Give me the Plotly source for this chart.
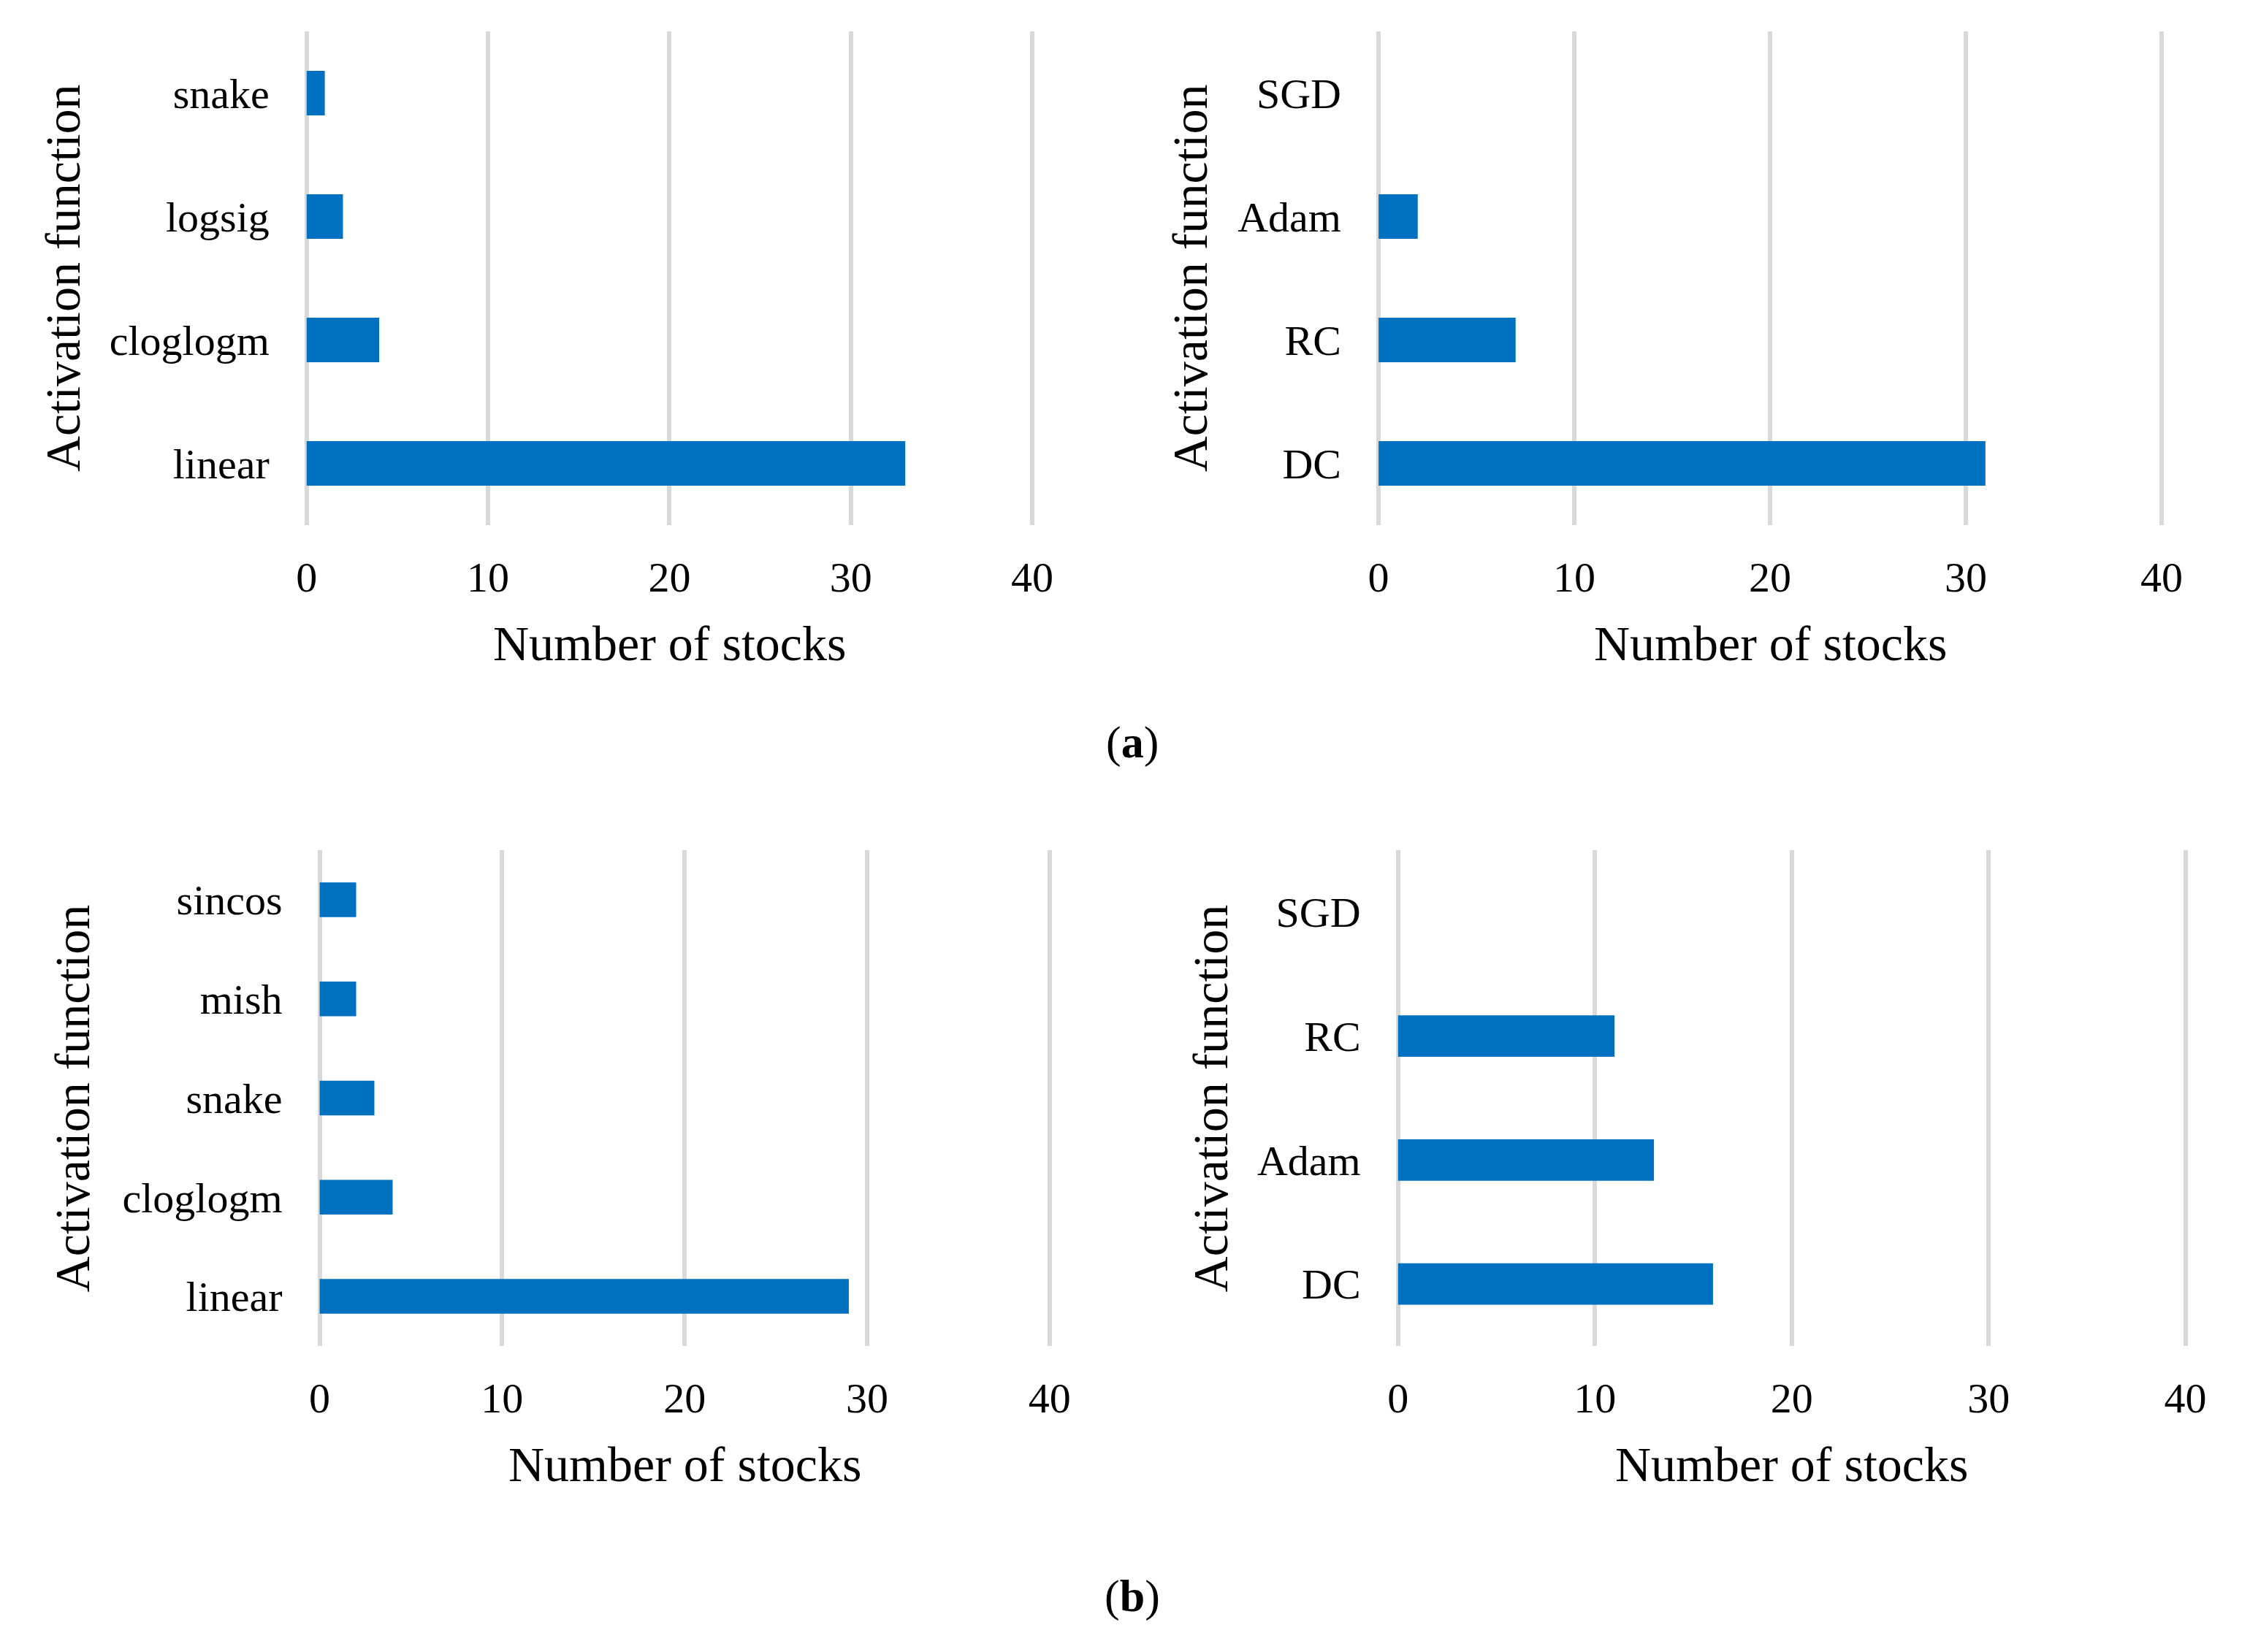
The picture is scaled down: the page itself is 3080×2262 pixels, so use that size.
import plotly.graph_objects as go

# ---- data ----
cats_a1 = ["linear", "cloglogm", "logsig", "snake"]
vals_a1 = [33, 4, 2, 1]

cats_a2 = ["DC", "RC", "Adam", "SGD"]
vals_a2 = [31, 7, 2, 0]

cats_b1 = ["linear", "cloglogm", "snake", "mish", "sincos"]
vals_b1 = [29, 4, 3, 2, 2]

cats_b2 = ["DC", "Adam", "RC", "SGD"]
vals_b2 = [16, 13, 11, 0]

x_ticks = [0, 10, 20, 30, 40]
x_title = "Number of stocks"
y_title = "Activation function"

W, H = 3080, 2262
BAR = "#0070C0"
GRID = "#d9d9d9"
FONT = "Liberation Serif, Times New Roman, serif"

def px_x(v):
    return v / W

def px_y(v):
    return 1 - v / H

panels = [
    # cats, vals, xaxis id, x-domain px, y-domain px (top,bottom), bar width, ytitle x
    (cats_a1, vals_a1, 1, (411, 1421), (43, 719), 0.36, 75),
    (cats_a2, vals_a2, 2, (1897, 2987), (43, 719), 0.36, 1638),
    (cats_b1, vals_b1, 3, (429, 1445), (1164, 1843), 0.35, 88),
    (cats_b2, vals_b2, 4, (1924, 3020), (1164, 1843), 0.335, 1666),
]

fig = go.Figure()
annotations = []
layout = {}

for cats, vals, i, (x0, x1), (yt, yb), bw, ytx in panels:
    sx = "" if i == 1 else str(i)
    fig.add_trace(go.Bar(
        x=vals, y=cats, orientation="h",
        marker=dict(color=BAR, line=dict(width=0)),
        width=bw,
        xaxis="x" + sx, yaxis="y" + sx,
        showlegend=False, hoverinfo="x+y",
    ))
    layout["xaxis" + sx] = dict(
        domain=[px_x(x0), px_x(x1)],
        anchor="y" + sx,
        range=[-0.08, 40.08],
        tickvals=x_ticks,
        showgrid=True, gridcolor=GRID, gridwidth=6,
        zeroline=False, showline=False,
        ticks="", ticklabelstandoff=32,
        tickfont=dict(family=FONT, size=58, color="#000000"),
        fixedrange=True,
    )
    layout["yaxis" + sx] = dict(
        domain=[px_y(yb), px_y(yt)],
        anchor="x" + sx,
        type="category",
        categoryorder="array", categoryarray=cats,
        range=[-0.5, len(cats) - 0.5],
        showgrid=False, zeroline=False, showline=False,
        ticks="", ticklabelstandoff=48,
        tickfont=dict(family=FONT, size=58, color="#000000"),
        fixedrange=True,
    )
    # x-axis title
    annotations.append(dict(
        text=x_title, xref="paper", yref="paper",
        x=px_x((x0 + x1) / 2), y=px_y(yb + 162),
        xanchor="center", yanchor="middle", showarrow=False,
        font=dict(family=FONT, size=68, color="#000000"),
    ))
    # y-axis title
    annotations.append(dict(
        text=y_title, xref="paper", yref="paper",
        x=px_x(ytx), y=px_y((yt + yb) / 2),
        xanchor="center", yanchor="middle", showarrow=False,
        textangle=-90,
        font=dict(family=FONT, size=68, color="#000000"),
    ))

annotations.append(dict(
    text="(<b>a</b>)", xref="paper", yref="paper",
    x=px_x(1558), y=px_y(1016), xanchor="center", yanchor="middle",
    showarrow=False, font=dict(family=FONT, size=62, color="#000000"),
))
annotations.append(dict(
    text="(<b>b</b>)", xref="paper", yref="paper",
    x=px_x(1558), y=px_y(2185), xanchor="center", yanchor="middle",
    showarrow=False, font=dict(family=FONT, size=62, color="#000000"),
))

fig.update_layout(
    width=W, height=H,
    margin=dict(l=0, r=0, t=0, b=0),
    paper_bgcolor="white", plot_bgcolor="white",
    font=dict(family=FONT, color="#000000"),
    annotations=annotations,
    **layout,
)

fig.write_html(
    "out.html",
    config={"displayModeBar": False},
    post_script="document.body.style.margin='0';document.body.style.overflow='hidden';",
)
